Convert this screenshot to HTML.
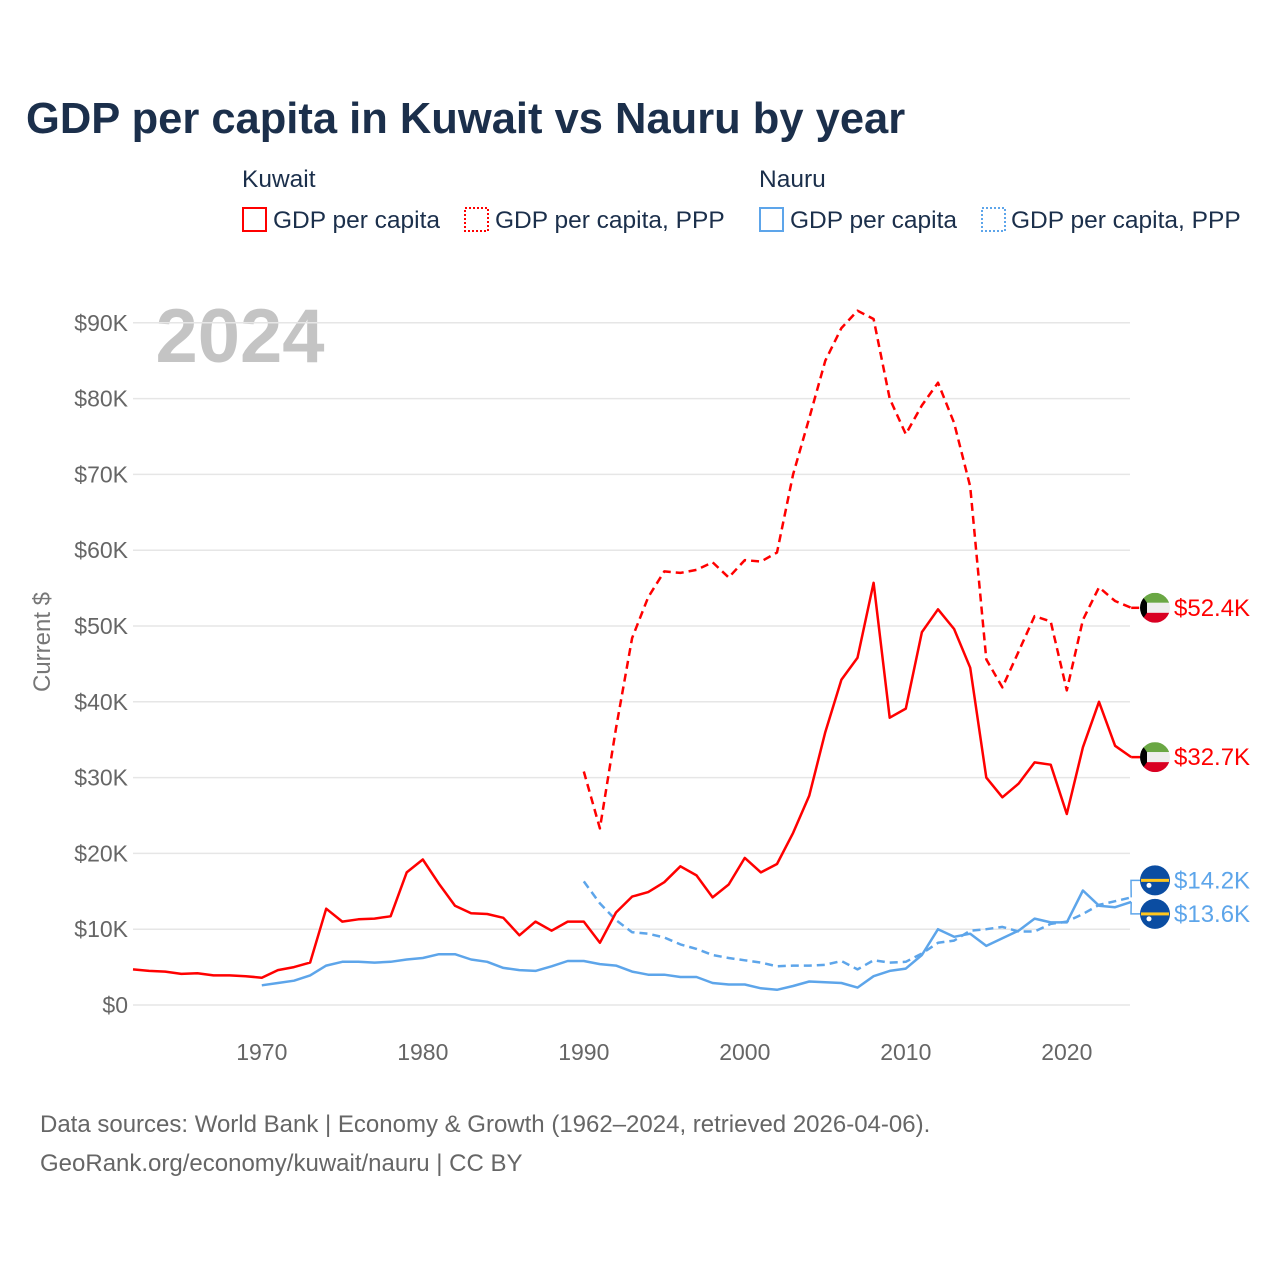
<!DOCTYPE html>
<html><head><meta charset="utf-8"><style>
body{margin:0;background:#fff;font-family:"Liberation Sans",sans-serif;}
svg text{font-family:"Liberation Sans",sans-serif;}
</style></head><body>
<svg id="chart" width="1280" height="1280" viewBox="0 0 1280 1280" xmlns="http://www.w3.org/2000/svg">
<rect width="1280" height="1280" fill="#fff"/>
<text x="26" y="133" font-size="43.5" font-weight="bold" fill="#1b2f4b">GDP per capita in Kuwait vs Nauru by year</text>
<g font-size="24.5" fill="#1b2f4b">
<text x="242" y="187">Kuwait</text>
<text x="759" y="187">Nauru</text>
<g><rect x="243" y="208" width="23" height="23" fill="none" stroke="#f00" stroke-width="2"/><text x="273" y="228">GDP per capita</text></g>
<g><rect x="465" y="208" width="23" height="23" fill="none" stroke="#f00" stroke-width="2" stroke-dasharray="2,2"/><text x="495" y="228">GDP per capita, PPP</text></g>
<g><rect x="760" y="208" width="23" height="23" fill="none" stroke="#5da5ea" stroke-width="2"/><text x="790" y="228">GDP per capita</text></g>
<g><rect x="982" y="208" width="23" height="23" fill="none" stroke="#5da5ea" stroke-width="2" stroke-dasharray="2,2"/><text x="1011" y="228">GDP per capita, PPP</text></g>
</g>
<text x="240" y="362" font-size="76" font-weight="bold" fill="#c4c4c4" text-anchor="middle">2024</text>
<g id="grid"></g><g id="yticks"></g><g id="xticks"></g><g id="series"></g><g id="endlabels"></g>
<text transform="translate(50,642) rotate(-90)" font-size="24" fill="#777" text-anchor="middle">Current $</text>
<text x="40" y="1132" font-size="24" fill="#666">Data sources: World Bank | Economy &amp; Growth (1962–2024, retrieved 2026-04-06).</text>
<text x="40" y="1171" font-size="24" fill="#666">GeoRank.org/economy/kuwait/nauru | CC BY</text>
</svg>
<script>
const yTicks=[0,10,20,30,40,50,60,70,80,90];
const yTickLabels=["$0","$10K","$20K","$30K","$40K","$50K","$60K","$70K","$80K","$90K"];
const xTicks=[1970,1980,1990,2000,2010,2020];
const kuwaitGdpStart=1962;
const kuwaitGdp=[4.7,4.5,4.4,4.1,4.2,3.9,3.9,3.8,3.6,4.6,5.0,5.6,12.7,11.0,11.3,11.4,11.7,17.5,19.2,16.0,13.1,12.1,12.0,11.5,9.2,11.0,9.8,11.0,11.0,8.2,12.2,14.3,14.9,16.2,18.3,17.1,14.2,15.9,19.4,17.5,18.6,22.7,27.6,36.0,42.9,45.8,55.7,37.9,39.1,49.2,52.2,49.6,44.5,30.0,27.4,29.2,32.0,31.7,25.2,34.0,40.0,34.2,32.7];
const kuwaitPppStart=1990;
const kuwaitPpp=[30.8,23.3,36.5,48.4,53.8,57.2,57.0,57.4,58.4,56.4,58.7,58.5,59.7,70.0,77.4,85.0,89.3,91.6,90.5,80.0,75.3,79.1,82.1,76.8,68.4,45.6,41.9,46.6,51.3,50.6,41.5,50.8,55.1,53.3,52.4];
const nauruGdpStart=1970;
const nauruGdp=[2.6,2.9,3.2,3.9,5.2,5.7,5.7,5.6,5.7,6.0,6.2,6.7,6.7,6.0,5.7,4.9,4.6,4.5,5.1,5.8,5.8,5.4,5.2,4.4,4.0,4.0,3.7,3.7,2.9,2.7,2.7,2.2,2.0,2.5,3.1,3.0,2.9,2.3,3.8,4.5,4.8,6.6,10.0,9.0,9.4,7.8,8.8,9.8,11.4,10.9,10.9,15.1,13.1,12.9,13.6];
const nauruPppStart=1990;
const nauruPpp=[16.3,13.4,11.2,9.6,9.4,8.9,8.0,7.4,6.6,6.2,5.9,5.6,5.1,5.2,5.2,5.3,5.8,4.7,5.9,5.6,5.7,6.8,8.2,8.5,9.8,10.0,10.3,9.7,9.7,10.7,11.0,12.0,13.2,13.7,14.2];
const endLabels=["$52.4K","$32.7K","$14.2K","$13.6K"];

const NS="http://www.w3.org/2000/svg";
const X=yr=>133+(yr-1962)*16.1;
const Y=v=>1005-v*7.58;
function mk(tag,attrs,parent){const e=document.createElementNS(NS,tag);for(const k in attrs)e.setAttribute(k,attrs[k]);parent.appendChild(e);return e;}
const grid=document.getElementById('grid'),yt=document.getElementById('yticks'),xt=document.getElementById('xticks'),ser=document.getElementById('series'),el=document.getElementById('endlabels');
yTicks.forEach((v,i)=>{
  const l=mk('line',{x1:133,x2:1130,y1:Y(v),y2:Y(v),stroke:'#e6e6e6','stroke-width':1.5},grid);
  
  
  const t=mk('text',{x:128,y:Y(v)+8,'font-size':23,fill:'#666','text-anchor':'end'},yt);
  t.textContent=yTickLabels[i];
  
  
});
xTicks.forEach(yr=>{
  const t=mk('text',{x:X(yr),y:1060,'font-size':23,fill:'#666','text-anchor':'middle'},xt);
  t.textContent=yr;
  
  
});
function line(data,start,color,dash,name){
  const d=data.map((v,i)=>(i?'L':'M')+X(start+i).toFixed(1)+','+Y(v).toFixed(1)).join('');
  const p=mk('path',{d:d,fill:'none',stroke:color,'stroke-width':2.5,'stroke-linejoin':'round'},ser);
  if(dash)p.setAttribute('stroke-dasharray',dash);
  
  
}
line(nauruPpp,nauruPppStart,'#5da5ea','8,5','nauru-ppp-line');
line(nauruGdp,nauruGdpStart,'#5da5ea',null,'nauru-gdp-line');
line(kuwaitPpp,kuwaitPppStart,'#ff0000','8,5','kuwait-ppp-line');
line(kuwaitGdp,kuwaitGdpStart,'#ff0000',null,'kuwait-gdp-line');

const lastK=[kuwaitPpp[kuwaitPpp.length-1],kuwaitGdp[kuwaitGdp.length-1]];
const lastN=[nauruPpp[nauruPpp.length-1],nauruGdp[nauruGdp.length-1]];
function kFlag(cy,name){
  const g=mk('g',{},el);
  
  
  const id='c'+Math.round(cy);
  const cp=mk('clipPath',{id:id},g);mk('circle',{cx:1155,cy:cy,r:15},cp);
  const h=mk('g',{'clip-path':'url(#'+id+')'},g);
  mk('rect',{x:1140,y:cy-15,width:30,height:10,fill:'#6aa744'},h);
  mk('rect',{x:1140,y:cy-5,width:30,height:10,fill:'#eee'},h);
  mk('rect',{x:1140,y:cy+5,width:30,height:10,fill:'#d90022'},h);
  mk('polygon',{points:`1140,${cy-15} 1147,${cy-5} 1147,${cy+5} 1140,${cy+15}`,fill:'#000'},h);
}
function nFlag(cy,name){
  const g=mk('g',{},el);
  
  
  mk('circle',{cx:1155,cy:cy,r:15,fill:'#0b4da2'},g);
  mk('rect',{x:1141,y:cy-1.5,width:28,height:3,fill:'#ffc61e'},g);
  mk('circle',{cx:1149,cy:cy+5,r:2.5,fill:'#fff'},g);
}
function lab(txt,y,color,name){
  const t=mk('text',{x:1174,y:y+8,'font-size':24,fill:color},el);
  t.textContent=txt;
  
  
}
mk('line',{x1:X(2024),y1:Y(lastK[0]),x2:1140,y2:Y(lastK[0]),stroke:'#f00','stroke-width':2.5,'stroke-dasharray':'8,5'},el);
mk('line',{x1:X(2024),y1:Y(lastK[1]),x2:1140,y2:Y(lastK[1]),stroke:'#f00','stroke-width':2.5},el);
kFlag(Y(lastK[0]),'kuwait-ppp-flag');lab(endLabels[0],Y(lastK[0]),'#f00','kuwait-ppp-end-label');
kFlag(Y(lastK[1]),'kuwait-gdp-flag');lab(endLabels[1],Y(lastK[1]),'#f00','kuwait-gdp-end-label');
const ny1=Y(lastN[0])-17,ny2=Y(lastN[1])+12;
mk('path',{d:`M${X(2024)},${Y(lastN[0])}L1131,${ny1}L1140,${ny1}`,fill:'none',stroke:'#5da5ea','stroke-width':1.5},el);
mk('path',{d:`M${X(2024)},${Y(lastN[1])}L1131,${ny2}L1140,${ny2}`,fill:'none',stroke:'#5da5ea','stroke-width':1.5},el);
nFlag(ny1,'nauru-ppp-flag');lab(endLabels[2],ny1,'#5da5ea','nauru-ppp-end-label');
nFlag(ny2,'nauru-gdp-flag');lab(endLabels[3],ny2,'#5da5ea','nauru-gdp-end-label');
</script>
</body></html>
